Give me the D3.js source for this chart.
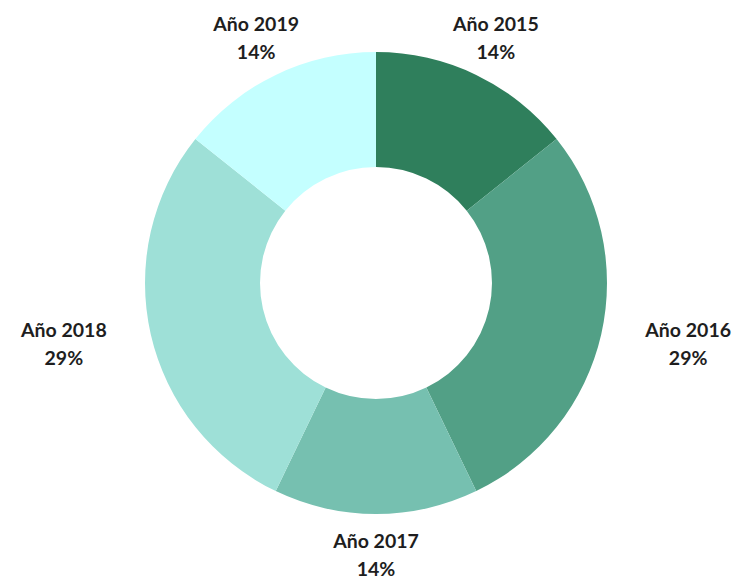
<!DOCTYPE html>
<html>
<head>
<meta charset="utf-8">
<script src="https://cdn.jsdelivr.net/npm/d3@7"></script>
<style>
  body { margin: 0; background: #fff; }
  svg text { font-family: Lato, "Noto Sans", sans-serif; font-weight: 700; fill: #1e1e1e; }
</style>
</head>
<body>
<div id="chart"></div>
<script>
// data
var years = ["Año 2015", "Año 2016", "Año 2017", "Año 2018", "Año 2019"];
var values = [1, 2, 1, 2, 1];
var colors = ["#2f7f5c", "#52a086", "#76c0b0", "#9ee0d7", "#c4ffff"];

var w = 736;
var h = 580;
var cx = 376, cy = 283;
var outerR = 231, innerR = 116;

var total = d3.sum(values);
var slices = years.map(function(d, i) {
  return { year: d, value: values[i], color: colors[i] };
});

var svg = d3.select('#chart')
  .append('svg')
    .attr('width', w)
    .attr('height', h);

var pie = d3.pie()
  .value(function(d) { return d.value; })
  .sort(null);

var arc = d3.arc()
  .innerRadius(innerR)
  .outerRadius(outerR);

var g = svg.append('g')
  .attr('transform', 'translate(' + cx + ',' + cy + ')');

var arcs = pie(slices);

g.selectAll('path')
  .data(arcs)
  .enter()
  .append('path')
    .attr('d', arc)
    .attr('fill', function(d) { return d.data.color; });

// labels outside the ring
var labelR = 272;
var lab = g.selectAll('.lab')
  .data(arcs)
  .enter()
  .append('text')
    .attr('class', 'lab')
    .attr('text-anchor', 'middle')
    .attr('font-size', 19.5)
    .attr('transform', function(d) {
      var a = (d.startAngle + d.endAngle) / 2;
      var s = Math.sin(a), c = Math.cos(a);
      var x = labelR * s + 52 * s * Math.pow(Math.abs(s), 3);
      var y = -labelR * c;
      return 'translate(' + x + ',' + (y - 7) + ')';
    });

lab.append('tspan')
  .attr('x', 0)
  .attr('dy', 0)
  .text(function(d) { return d.data.year; });

lab.append('tspan')
  .attr('x', 0)
  .attr('dy', 28)
  .text(function(d) { return Math.round(d.data.value / total * 100) + '%'; });
</script>
</body>
</html>
